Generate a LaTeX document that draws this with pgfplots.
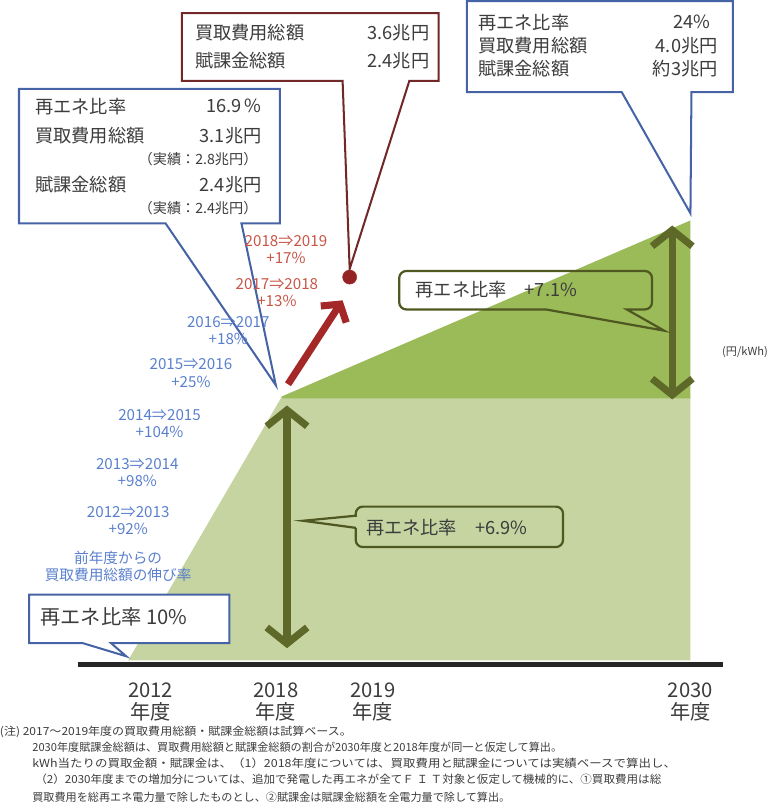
\documentclass[border=0pt]{standalone}
\usepackage{pgfplots}
\pgfplotsset{compat=1.18}
\usepackage{fontspec}
\setmainfont{Noto Sans CJK JP}
\usetikzlibrary{arrows.meta}
\definecolor{lgreen}{RGB}{197,212,160}
\definecolor{dgreen}{RGB}{155,187,89}
\definecolor{olivea}{RGB}{94,104,40}
\definecolor{bluebox}{RGB}{70,100,165}
\definecolor{redbox}{RGB}{115,40,40}
\definecolor{bluetxt}{RGB}{90,128,205}
\definecolor{redtxt}{RGB}{200,85,70}
\definecolor{darrow}{RGB}{165,40,40}
\definecolor{txt}{RGB}{60,60,60}
\newcommand{\fs}[1]{\fontsize{#1bp}{#1bp}\selectfont}
\begin{document}
\begin{tikzpicture}
\begin{axis}[width=787bp, height=802bp, scale only axis,
  xmin=0, xmax=787, ymin=0, ymax=802, y dir=reverse,
  hide axis, clip=false]
% green areas (light: 2012 -> 2018 -> 2030 ; dark: increase 2018 -> 2030)
\addplot[fill=lgreen, draw=none] coordinates {(130,660) (282,399) (686,399) (686,660)} -- cycle;
\addplot[fill=dgreen, draw=none] coordinates {(282,399) (686,225) (686,401) (282,401)} -- cycle;
% x axis line
\draw[line width=5bp, black!85] (axis cs:80,664) -- (axis cs:718,664);
% double arrows
\draw[olivea, line width=7bp, {Straight Barb[length=16bp,width=40bp]}-{Straight Barb[length=16bp,width=40bp]}] (axis cs:287,408) -- (axis cs:287,648);
\draw[olivea, line width=7bp, {Straight Barb[length=16bp,width=40bp]}-{Straight Barb[length=16bp,width=40bp]}] (axis cs:668,230) -- (axis cs:668,402);
% red arrow and point
\draw[darrow, line width=7bp, -{Straight Barb[length=12bp,width=30bp]}] (axis cs:288,387) -- (axis cs:342,304);
\addplot[only marks, mark=*, mark size=7bp, color=darrow, mark options={fill=darrow!90!black}] coordinates {(349,281)};
% callout boxes
\draw[bluebox, line width=2bp, fill=white] (axis cs:22,95) -- (axis cs:280,95) -- (axis cs:280,228) -- (axis cs:242,228) -- (axis cs:276,388) -- (axis cs:167,228) -- (axis cs:22,228) -- cycle;
\draw[redbox, line width=2bp, fill=white] (axis cs:183,20) -- (axis cs:437,20) -- (axis cs:437,87) -- (axis cs:408,87) -- (axis cs:349,273) -- (axis cs:342,87) -- (axis cs:183,87) -- cycle;
\draw[bluebox, line width=2bp, fill=white] (axis cs:465,8) -- (axis cs:728,8) -- (axis cs:728,98) -- (axis cs:687,98) -- (axis cs:686,218) -- (axis cs:618,98) -- (axis cs:465,98) -- cycle;
\draw[bluebox, line width=2bp, fill=white] (axis cs:32,595) -- (axis cs:230,595) -- (axis cs:230,643) -- (axis cs:113,643) -- (axis cs:128,656) -- (axis cs:85,643) -- (axis cs:32,643) -- cycle;
\draw[olivea!85!black, line width=2.2bp] (axis cs:398,294) [rounded corners=7bp] -- (axis cs:398,275) -- (axis cs:648,275) -- (axis cs:648,313) [sharp corners] -- (axis cs:623,313) -- (axis cs:660,334) -- (axis cs:543,313) [rounded corners=7bp] -- (axis cs:398,313) -- (axis cs:398,294);
\draw[olivea!85!black, line width=2.2bp] (axis cs:355,529) [rounded corners=7bp] -- (axis cs:355,548) -- (axis cs:560,548) -- (axis cs:560,508) -- (axis cs:355,508) [sharp corners] -- (axis cs:355,517) -- (axis cs:303,522) -- (axis cs:355,529);
% box texts
\begin{scope}[every node/.style={inner sep=0pt, text=txt}]
\node[anchor=west, font=\fs{18}] at (axis cs:38,112) {再エネ比率};
\node[anchor=east, font=\fs{18}] at (axis cs:262,112) {16.9\,\%};
\node[anchor=west, font=\fs{18}] at (axis cs:38,141) {買取費用総額};
\node[anchor=east, font=\fs{18}] at (axis cs:262,141) {3.1兆円};
\node[anchor=east, font=\fs{14}] at (axis cs:258,164) {（実績：2.8兆円）};
\node[anchor=west, font=\fs{18}] at (axis cs:38,190) {賦課金総額};
\node[anchor=east, font=\fs{18}] at (axis cs:262,190) {2.4兆円};
\node[anchor=east, font=\fs{14}] at (axis cs:258,213) {（実績：2.4兆円）};
\node[anchor=west, font=\fs{18}] at (axis cs:196,39) {買取費用総額};
\node[anchor=east, font=\fs{18}] at (axis cs:428,39) {3.6兆円};
\node[anchor=west, font=\fs{18}] at (axis cs:196,67) {賦課金総額};
\node[anchor=east, font=\fs{18}] at (axis cs:428,67) {2.4兆円};
\node[anchor=west, font=\fs{18}] at (axis cs:476,29) {再エネ比率};
\node[anchor=east, font=\fs{18}] at (axis cs:706,29) {24\%};
\node[anchor=west, font=\fs{18}] at (axis cs:476,52) {買取費用総額};
\node[anchor=east, font=\fs{18}] at (axis cs:713,52) {4.0兆円};
\node[anchor=west, font=\fs{18}] at (axis cs:476,75) {賦課金総額};
\node[anchor=east, font=\fs{18}] at (axis cs:713,75) {約3兆円};
\node[anchor=west, font=\fs{20}] at (axis cs:43,617) {再エネ比率 10\%};
\node[anchor=west, font=\fs{18}] at (axis cs:414,293) {再エネ比率\quad +7.1\%};
\node[anchor=west, font=\fs{18}] at (axis cs:365,529) {再エネ比率\quad +6.9\%};
\end{scope}
% growth labels
\begin{scope}[every node/.style={inner sep=0pt, align=center, font=\fs{15}}]
\node[text=redtxt] at (axis cs:286,254) {2018⇒2019\\[2bp]+17\%};
\node[text=redtxt] at (axis cs:277,296) {2017⇒2018\\[2bp]+13\%};
\node[text=bluetxt] at (axis cs:229,334) {2016⇒2017\\[2bp]+18\%};
\node[text=bluetxt] at (axis cs:192,376) {2015⇒2016\\[2bp]+25\%};
\node[text=bluetxt] at (axis cs:161,426) {2014⇒2015\\[2bp]+104\%};
\node[text=bluetxt] at (axis cs:139,474) {2013⇒2014\\[2bp]+98\%};
\node[text=bluetxt] at (axis cs:130,522) {2012⇒2013\\[2bp]+92\%};
\node[text=bluetxt, font=\fs{14.5}] at (axis cs:120,567) {前年度からの\\[2bp]買取費用総額の伸び率};
\end{scope}
% unit
\node[font=\fs{11}, text=txt, inner sep=0pt] at (axis cs:740,355) {(円/kWh)};
% year labels
\begin{scope}[every node/.style={inner sep=0pt, align=center, font=\fs{20}, text=txt}]
\node at (axis cs:152,701) {2012\\[2bp]年度};
\node at (axis cs:276,701) {2018\\[2bp]年度};
\node at (axis cs:372,701) {2019\\[2bp]年度};
\node at (axis cs:686,701) {2030\\[2bp]年度};
\end{scope}
% footnote
\begin{scope}[every node/.style={inner sep=0pt, anchor=west, font=\fs{11}, text=txt}]
\node at (axis cs:3,731) {\scalebox{1.08}[1]{(注)\ 2017～2019年度の買取費用総額・賦課金総額は試算ベース。}};
\node at (axis cs:35,746) {2030年度賦課金総額は、買取費用総額と賦課金総額の割合が2030年度と2018年度が同一と仮定して算出。};
\node at (axis cs:35,762) {\scalebox{1.12}[1]{kWh当たりの買取金額・賦課金は、（1）2018年度については、買取費用と賦課金については実績ベースで算出し、}};
\node at (axis cs:38,778) {\scalebox{1.04}[1]{（2）2030年度までの増加分については、追加で発電した再エネが全てＦ Ｉ Ｔ対象と仮定して機械的に、①買取費用は総}};
\node at (axis cs:35,795) {買取費用を総再エネ電力量で除したものとし、②賦課金は賦課金総額を全電力量で除して算出。};
\end{scope}
\end{axis}
\end{tikzpicture}
\end{document}
